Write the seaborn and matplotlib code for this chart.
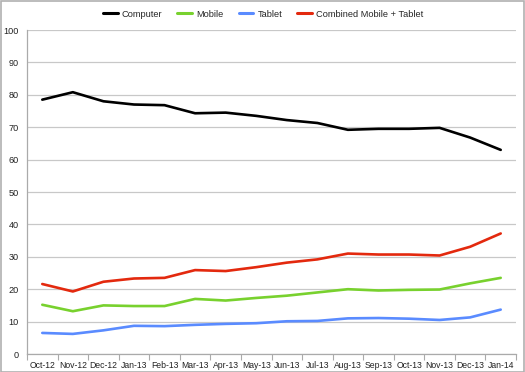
import numpy as np
import pandas as pd
import seaborn as sns
import matplotlib.pyplot as plt
from matplotlib.ticker import FixedLocator

months = ["Oct-12", "Nov-12", "Dec-12", "Jan-13", "Feb-13", "Mar-13", "Apr-13", "May-13",
          "Jun-13", "Jul-13", "Aug-13", "Sep-13", "Oct-13", "Nov-13", "Dec-13", "Jan-14"]
computer = [78.5, 80.8, 78.0, 77.0, 76.8, 74.3, 74.5, 73.5, 72.2, 71.3, 69.2, 69.5, 69.5, 69.8, 66.8, 63.0]
mobile = [15.2, 13.2, 15.0, 14.8, 14.8, 17.0, 16.5, 17.3, 18.0, 19.0, 20.0, 19.6, 19.8, 19.9, 21.8, 23.5]
tablet = [6.5, 6.2, 7.3, 8.7, 8.6, 9.0, 9.3, 9.5, 10.1, 10.2, 11.0, 11.1, 10.9, 10.5, 11.3, 13.7]
combined = [21.6, 19.3, 22.3, 23.3, 23.5, 25.9, 25.6, 26.8, 28.2, 29.2, 31.0, 30.7, 30.7, 30.4, 33.1, 37.2]

series = {"Computer": computer, "Mobile": mobile, "Tablet": tablet,
          "Combined Mobile + Tablet": combined}
colors = {"Computer": "#000000", "Mobile": "#78d12e", "Tablet": "#5a8bff",
          "Combined Mobile + Tablet": "#e3290e"}

rows = []
for name, vals in series.items():
    for i, v in enumerate(vals):
        rows.append({"pos": i, "value": v, "series": name})
df = pd.DataFrame(rows)

sns.set_style("white")
plt.rcParams["font.family"] = ["Liberation Sans", "DejaVu Sans"]

fig = plt.figure(figsize=(5.25, 3.72), dpi=100)
ax = fig.add_axes([27 / 525, 18 / 372, 489 / 525, 324 / 372])

sns.lineplot(data=df, x="pos", y="value", hue="series", palette=colors,
             linewidth=1.9, ax=ax, legend=True)

ax.set_xlim(-0.5, len(months) - 0.5)
ax.set_ylim(0, 100)
ax.set_yticks(range(0, 101, 10))
ax.yaxis.grid(True, color="#c8c8c8", linewidth=0.9)
ax.set_axisbelow(True)
ax.set_xticks(range(len(months)))
ax.set_xticklabels(months, fontsize=6.2, color="#222222")
ax.xaxis.set_minor_locator(FixedLocator(np.arange(-0.5, len(months), 1)))
ax.tick_params(axis="x", which="major", length=0, pad=5)
ax.tick_params(axis="x", which="minor", length=4, color="#aaaaaa", width=0.8, bottom=True)
ax.tick_params(axis="y", length=0, labelsize=6.6, labelcolor="#222222", pad=6)
ax.set_xlabel("")
ax.set_ylabel("")

for s in ["top", "right"]:
    ax.spines[s].set_visible(False)
for s in ["left", "bottom"]:
    ax.spines[s].set_color("#aaaaaa")
    ax.spines[s].set_linewidth(0.9)

leg = ax.legend(loc="center", bbox_to_anchor=(0.483, 1.049), ncol=4, frameon=False,
                fontsize=6.7, handlelength=1.6, columnspacing=1.6, handletextpad=0.45)
for line in leg.get_lines():
    line.set_linewidth(2.2)

border = plt.Rectangle((0.001, 0.001), 0.997, 0.996, transform=fig.transFigure,
                       fill=False, edgecolor="#b0b0b0", linewidth=1.2)
fig.patches.append(border)

fig.savefig("out.png", dpi=100)
